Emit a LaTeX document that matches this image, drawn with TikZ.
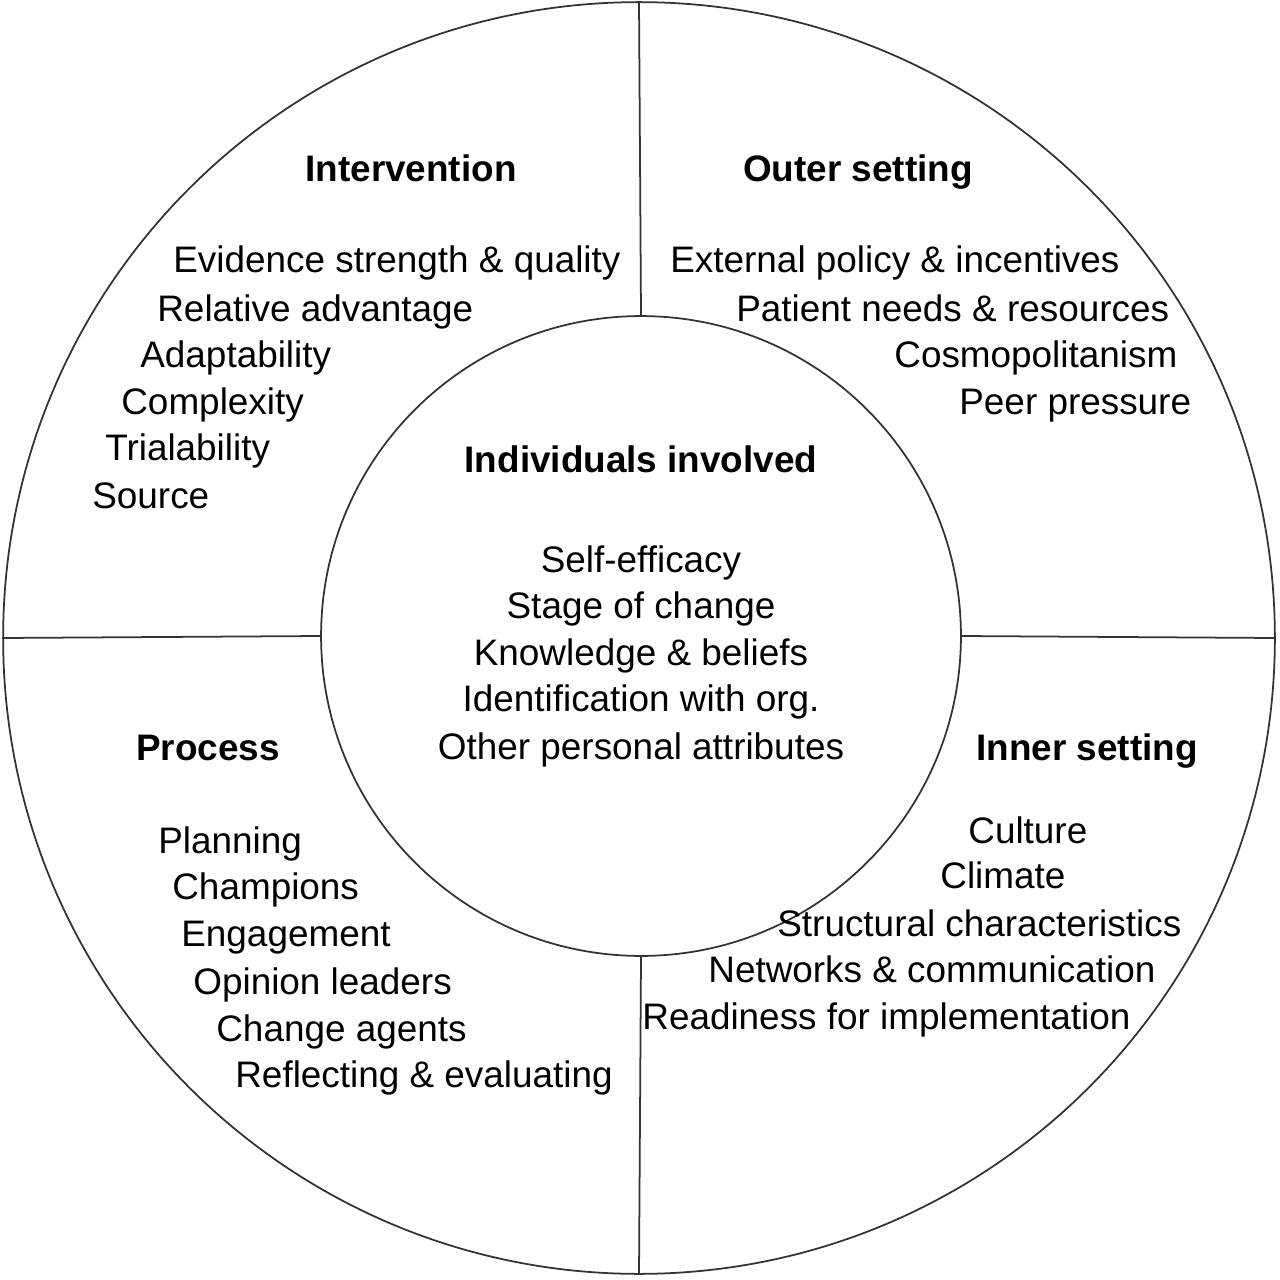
\documentclass[tikz,border=0pt]{standalone}
\usepackage{fontspec}
\setmainfont{Liberation Sans}
\begin{document}
\begin{tikzpicture}[x=0.02cm,y=-0.02cm,
  ln/.style={line width=1pt,black!80},
  fs/.style={inner sep=0,text height=0.5em,text depth=0.42em},
  it/.style={fs,anchor=west,font=\fontsize{21pt}{23pt}\selectfont},
  ct/.style={fs,anchor=center,font=\fontsize{21pt}{23pt}\selectfont},
  hd/.style={fs,anchor=center,font=\fontsize{21pt}{23pt}\selectfont\bfseries}]
\useasboundingbox (0,0) rectangle (1279,1280);
\coordinate (c) at (639,638);
\node[circle,draw,ln,minimum size=25.44cm,inner sep=0] (outer) at (c) {};
\node[circle,draw,ln,minimum size=12.8cm,inner sep=0] (inner) at (641,636) {};
\draw[ln] (outer.north) -- (inner.north);
\draw[ln] (inner.south) -- (outer.south);
\draw[ln] (outer.west) -- (inner.west);
\draw[ln] (inner.east) -- (outer.east);
% Intervention
\node[hd] (h1) at (411,181) {Intervention};
\node[it] (i1) at (173,272) {Evidence strength \& quality};
\node[it] (i2) at (157,321) {Relative advantage};
\node[it] (i3) at (140,367) {Adaptability};
\node[it] (i4) at (121,414) {Complexity};
\node[it] (i5) at (105,460) {Trialability};
\node[it] (i6) at (92,508) {Source};
% Outer setting
\node[hd] (h2) at (858,181) {Outer setting};
\node[it] (o1) at (670,272) {External policy \& incentives};
\node[it] (o2) at (736,321) {Patient needs \& resources};
\node[it] (o3) at (894,367) {Cosmopolitanism};
\node[it] (o4) at (959,414) {Peer pressure};
% Individuals
\node[hd] (h3) at (641,472) {Individuals involved};
\node[ct] (n1) at (641,572) {Self-efficacy};
\node[ct] (n2) at (641,618) {Stage of change};
\node[ct] (n3) at (641,665) {Knowledge \& beliefs};
\node[ct] (n4) at (641,711) {Identification with org.};
\node[ct] (n5) at (641,759) {Other personal attributes};
% Process
\node[hd] (h4) at (208,760) {Process};
\node[it] (p1) at (158,853) {Planning};
\node[it] (p2) at (172,899) {Champions};
\node[it] (p3) at (181,946) {Engagement};
\node[it] (p4) at (193,994) {Opinion leaders};
\node[it] (p5) at (216,1041) {Change agents};
\node[it] (p6) at (235,1087) {Reflecting \& evaluating};
% Inner setting
\node[hd] (h5) at (1087,760) {Inner setting};
\node[it] (s1) at (968,843) {Culture};
\node[it] (s2) at (940,888) {Climate};
\node[it] (s3) at (777,936) {Structural characteristics};
\node[it] (s4) at (708,982) {Networks \& communication};
\node[it] (s5) at (642,1029) {Readiness for implementation};
\end{tikzpicture}
\end{document}
